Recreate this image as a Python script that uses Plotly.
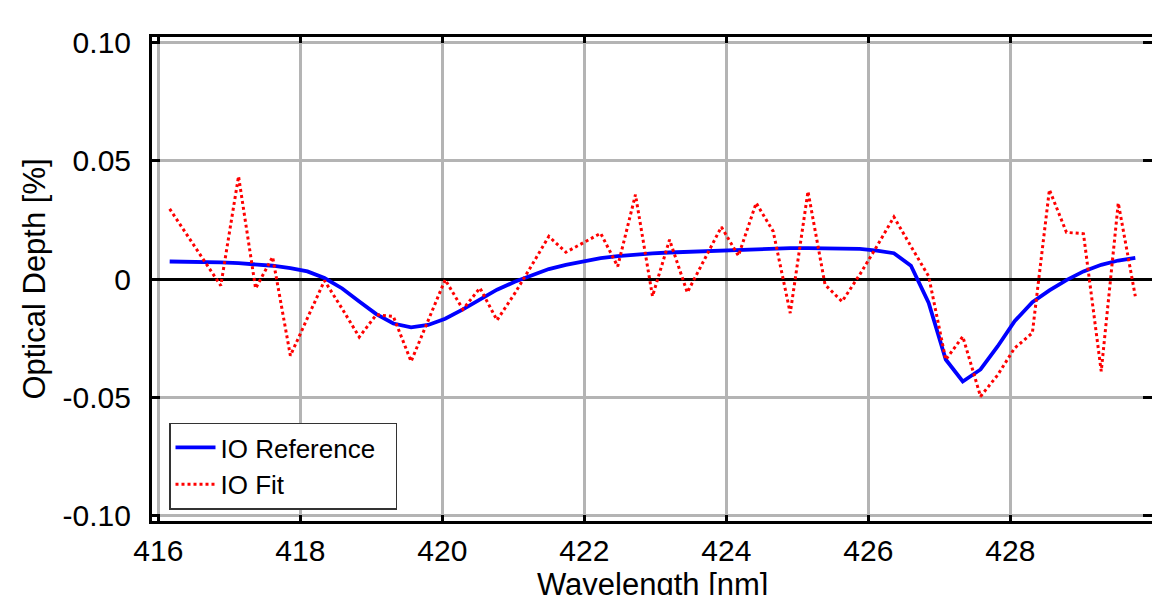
import plotly.graph_objects as go

wavelength = [416.16, 416.40, 416.64, 416.88, 417.13, 417.37, 417.61, 417.86, 418.10, 418.34,
              418.59, 418.83, 419.07, 419.31, 419.56, 419.80, 420.04, 420.29, 420.53, 420.77,
              421.02, 421.26, 421.50, 421.74, 421.99, 422.23, 422.47, 422.72, 422.96, 423.20,
              423.45, 423.69, 423.93, 424.17, 424.42, 424.66, 424.90, 425.15, 425.39, 425.63,
              425.88, 426.12, 426.36, 426.60, 426.85, 427.09, 427.33, 427.58, 427.82, 428.06,
              428.31, 428.55, 428.79, 429.03, 429.28, 429.52, 429.76]

io_reference = [0.0074, 0.0074, 0.0072, 0.0070, 0.0067, 0.0062, 0.0056, 0.0046, 0.0032, 0.0004,
                -0.0040, -0.0095, -0.0148, -0.0188, -0.0204, -0.0194, -0.0168, -0.0128, -0.0085, -0.0045,
                -0.0012, 0.0016, 0.0042, 0.0060, 0.0075, 0.0088, 0.0097, 0.0104, 0.0108, 0.0112,
                0.0115, 0.0118, 0.0121, 0.0124, 0.0127, 0.0129, 0.0130, 0.0130, 0.0130, 0.0130,
                0.0127, 0.0120, 0.0109, 0.0056, -0.0101, -0.0340, -0.0433, -0.0382, -0.0285, -0.0178,
                -0.0098, -0.0048, -0.0005, 0.0032, 0.0060, 0.0078, 0.0089]

io_fit = [0.0296, 0.0188, 0.0080, -0.0028, 0.0434, -0.0040, 0.0093, -0.0324, -0.0165, -0.0007,
          -0.0126, -0.0245, -0.0151, -0.0158, -0.0348, -0.0175, -0.0003, -0.0128, -0.0038, -0.0174,
          -0.0061, 0.0058, 0.0180, 0.0113, 0.0152, 0.0193, 0.0053, 0.0356, -0.0073, 0.0166,
          -0.0057, 0.0082, 0.0220, 0.0098, 0.0321, 0.0201, -0.0144, 0.0370, -0.0024, -0.0095,
          0.0019, 0.0138, 0.0262, 0.0138, 0.0011, -0.0341, -0.0243, -0.0496, -0.0406, -0.0292,
          -0.0228, 0.0377, 0.0197, 0.0191, -0.0390, 0.0321, -0.0073]

x_ticks = [416, 418, 420, 422, 424, 426, 428]
y_ticks = [-0.10, -0.05, 0, 0.05, 0.10]
y_tick_labels = ["-0.10", "-0.05", "0", "0.05", "0.10"]
x_title = "Wavelength [nm]"
y_title = "Optical Depth [%]"

FONT = "Liberation Sans, Arial, Helvetica, sans-serif"
X_RANGE = [415.911, 429.995]
Y_RANGE = [-0.1022, 0.1022]
PAD = "\u00a0\u00a0"

fig = go.Figure()
fig.add_trace(go.Scatter(x=wavelength, y=io_reference, mode="lines", name="IO Reference" + PAD,
                         line=dict(color="#0000ff", width=3.8)))
fig.add_trace(go.Scatter(x=wavelength, y=io_fit, mode="lines", name="IO Fit",
                         line=dict(color="#ff0000", width=3, dash="dot")))
# invisible trace to carry right-hand tick marks
fig.add_trace(go.Scatter(x=[wavelength[0]], y=[0], yaxis="y2", mode="lines",
                         showlegend=False, hoverinfo="skip", line=dict(width=0)))

fig.update_layout(
    width=1152, height=595,
    margin=dict(l=152, r=0, t=37, b=74),
    paper_bgcolor="white", plot_bgcolor="white",
    font=dict(family=FONT, color="black", size=28),
    showlegend=True,
    legend=dict(x=0.017, y=0.2035, xanchor="left", yanchor="top",
                bgcolor="white", bordercolor="#333333", borderwidth=1.5,
                font=dict(size=26, family=FONT), tracegroupgap=0,
                itemwidth=40),
    xaxis=dict(range=X_RANGE, tickvals=x_ticks, ticktext=[str(v) for v in x_ticks],
               automargin=False,
               showgrid=True, gridcolor="#b4b4b4", gridwidth=2.5,
               showline=True, linecolor="black", linewidth=3, mirror="ticks",
               ticks="inside", ticklen=6, tickwidth=3, tickcolor="black",
               tickfont=dict(size=30, family=FONT), ticklabelstandoff=1,
               zeroline=False),
    yaxis=dict(range=Y_RANGE, tickvals=y_ticks, ticktext=y_tick_labels,
               automargin=False,
               showgrid=True, gridcolor="#b4b4b4", gridwidth=2.5,
               showline=True, linecolor="black", linewidth=3, mirror=False,
               ticks="inside", ticklen=8, tickwidth=3, tickcolor="black",
               tickfont=dict(size=30, family=FONT), ticklabelstandoff=12,
               zeroline=True, zerolinecolor="black", zerolinewidth=3,
               title=dict(text=y_title, font=dict(size=31, family=FONT), standoff=8)),
    yaxis2=dict(range=Y_RANGE, tickvals=y_ticks, overlaying="y", side="right",
                automargin=False,
                showgrid=False, zeroline=False, showline=False,
                ticks="inside", ticklen=9, tickwidth=3, tickcolor="black",
                showticklabels=False),
    annotations=[dict(text=x_title, xref="paper", yref="paper", x=0.5, y=0,
                      xanchor="center", yanchor="middle", yshift=-63, showarrow=False,
                      font=dict(size=31, family=FONT, color="black"))],
)

fig.write_html("out.html")
